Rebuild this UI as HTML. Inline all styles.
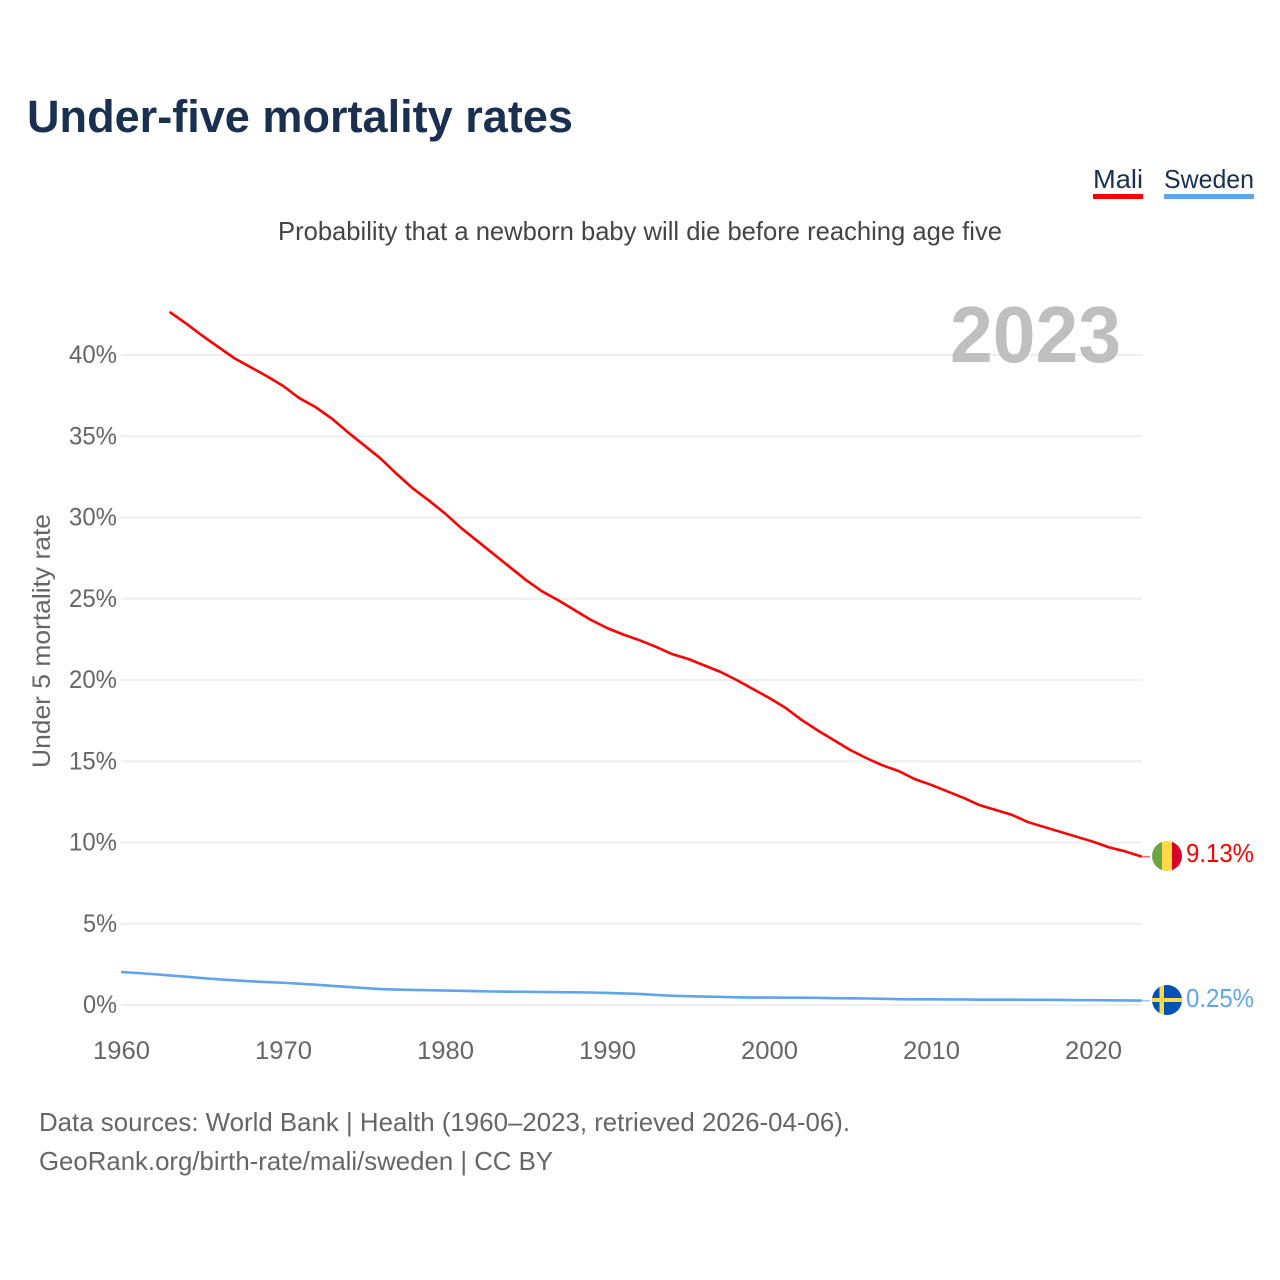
<!DOCTYPE html>
<html lang="en">
<head>
<meta charset="utf-8">
<title>Under-five mortality rates</title>
<style>
html,body{margin:0;padding:0;background:#fff;}
svg{display:block;font-family:"Liberation Sans",sans-serif;}
</style>
</head>
<body>
<svg id="chart" width="1280" height="1280" viewBox="0 0 1280 1280" xmlns="http://www.w3.org/2000/svg">
  <defs>
    <clipPath id="flag-clip-mali"><circle cx="1167" cy="856" r="15"/></clipPath>
    <clipPath id="flag-clip-sweden"><circle cx="1167" cy="1000" r="15"/></clipPath>
  </defs>
  <rect width="1280" height="1280" fill="#fff"/>
  <text x="27" y="132" font-size="45" font-weight="700" fill="#1a3050" textLength="546" lengthAdjust="spacingAndGlyphs">Under-five mortality rates</text>
  <g>
    <text x="1093" y="188" font-size="26" fill="#1a3050" textLength="50" lengthAdjust="spacingAndGlyphs">Mali</text>
    <rect x="1093" y="194" width="50" height="5" fill="#ff0000"/>
  </g>
  <g>
    <text x="1164" y="188" font-size="26" fill="#1a3050" textLength="90" lengthAdjust="spacingAndGlyphs">Sweden</text>
    <rect x="1164" y="194" width="90" height="5" fill="#5ea5ee"/>
  </g>
  <text x="278" y="240" font-size="26" fill="#444" textLength="724" lengthAdjust="spacingAndGlyphs">Probability that a newborn baby will die before reaching age five</text>
  <g id="grid"></g>
  <g id="y-ticks"></g>
  <g id="x-ticks"></g>
  <text transform="translate(50,768) rotate(-90)" font-size="25" fill="#666" textLength="254" lengthAdjust="spacingAndGlyphs">Under 5 mortality rate</text>
  <text x="950" y="362" font-size="80" font-weight="700" fill="#bfbfbf" textLength="171" lengthAdjust="spacingAndGlyphs">2023</text>
  <g id="series"></g>
  <g clip-path="url(#flag-clip-mali)">
    <rect x="1152" y="841" width="10" height="30" fill="#6da544"/>
    <rect x="1162" y="841" width="10" height="30" fill="#ffda44"/>
    <rect x="1172" y="841" width="10" height="30" fill="#d80027"/>
  </g>
  <g clip-path="url(#flag-clip-sweden)">
    <rect x="1152" y="985" width="30" height="30" fill="#0052b4"/>
    <rect x="1159.5" y="985" width="4.5" height="30" fill="#ffda44"/>
    <rect x="1152" y="998" width="30" height="4" fill="#ffda44"/>
  </g>
  <text x="1186" y="862" font-size="26" fill="#ff0000" textLength="68" lengthAdjust="spacingAndGlyphs">9.13%</text>
  <text x="1186" y="1007" font-size="26" fill="#5ea5ee" textLength="68" lengthAdjust="spacingAndGlyphs">0.25%</text>
  <text x="39" y="1131" font-size="26" fill="#666" textLength="811" lengthAdjust="spacingAndGlyphs">Data sources: World Bank | Health (1960–2023, retrieved 2026-04-06).</text>
  <text x="39" y="1170" font-size="26" fill="#666" textLength="514" lengthAdjust="spacingAndGlyphs">GeoRank.org/birth-rate/mali/sweden | CC BY</text>
</svg>
<script>
const yTicks = [0, 5, 10, 15, 20, 25, 30, 35, 40];
const xTicks = [1960, 1970, 1980, 1990, 2000, 2010, 2020];
const firstYear = 1960;
const maliFirstYear = 1963;
const maliValues = [42.65, 41.95, 41.2, 40.5, 39.8, 39.25, 38.7, 38.1, 37.35, 36.8, 36.1, 35.25, 34.45, 33.65, 32.7, 31.8, 31.05, 30.25, 29.35, 28.55, 27.75, 26.95, 26.15, 25.45, 24.9, 24.3, 23.7, 23.2, 22.8, 22.45, 22.05, 21.6, 21.3, 20.9, 20.5, 20.0, 19.45, 18.9, 18.3, 17.55, 16.9, 16.3, 15.7, 15.2, 14.75, 14.4, 13.9, 13.55, 13.15, 12.75, 12.3, 12.0, 11.7, 11.25, 10.95, 10.65, 10.35, 10.05, 9.7, 9.45, 9.13];
const swedenValues = [2.03, 1.97, 1.9, 1.82, 1.74, 1.66, 1.58, 1.52, 1.46, 1.41, 1.37, 1.31, 1.25, 1.18, 1.11, 1.04, 0.98, 0.95, 0.93, 0.91, 0.89, 0.87, 0.85, 0.83, 0.82, 0.81, 0.8, 0.79, 0.78, 0.77, 0.74, 0.71, 0.68, 0.62, 0.57, 0.54, 0.52, 0.5, 0.47, 0.46, 0.46, 0.45, 0.45, 0.44, 0.42, 0.41, 0.4, 0.38, 0.36, 0.35, 0.35, 0.34, 0.34, 0.33, 0.33, 0.33, 0.32, 0.32, 0.31, 0.3, 0.3, 0.29, 0.28, 0.27];

const NS = 'http://www.w3.org/2000/svg';
const xScale = function (year) { return 121 + (year - 1960) * 16.2; };
const yScale = function (pct) { return 1005 - pct * 16.25; };

function make(tag, attrs, parent, text) {
  const el = document.createElementNS(NS, tag);
  Object.keys(attrs).forEach(function (k) { el.setAttribute(k, attrs[k]); });
  if (text !== undefined) el.textContent = text;
  parent.appendChild(el);
  return el;
}

const gridGroup = document.getElementById('grid');
const yGroup = document.getElementById('y-ticks');
const xGroup = document.getElementById('x-ticks');
const seriesGroup = document.getElementById('series');

yTicks.forEach(function (t) {
  const line = make('line', { x1: 121, x2: 1142, y1: yScale(t), y2: yScale(t), stroke: '#eeeeee', 'stroke-width': 2 }, gridGroup);
  
  
  const digits = String(t).length;
  const label = make('text', { x: 117, y: yScale(t) + 8, 'font-size': 25, fill: '#666', 'text-anchor': 'end', textLength: 14 * digits + 20, lengthAdjust: 'spacingAndGlyphs' }, yGroup, t + '%');
  
  
});

xTicks.forEach(function (t) {
  const label = make('text', { x: xScale(t) + 0.5, y: 1059, 'font-size': 25, fill: '#666', 'text-anchor': 'middle', textLength: 57, lengthAdjust: 'spacingAndGlyphs' }, xGroup, String(t));
  
  
});

function drawSeries(values, startYear, color, name) {
  const pts = values.map(function (v, i) { return xScale(startYear + i).toFixed(2) + ',' + yScale(v).toFixed(2); });
  const line = make('polyline', { points: pts.join(' '), fill: 'none', stroke: color, 'stroke-width': 2.6, 'stroke-linejoin': 'round' }, seriesGroup);
  
  
  const lastY = yScale(values[values.length - 1]);
  const connector = make('line', { x1: xScale(startYear + values.length - 1), x2: 1150, y1: lastY, y2: lastY, stroke: color, 'stroke-width': 1.5, 'stroke-opacity': 0.6 }, seriesGroup);
  
  
}

drawSeries(maliValues, maliFirstYear, '#ff0000', 'mali');
drawSeries(swedenValues, firstYear, '#5ea5ee', 'sweden');
</script>
</body>
</html>
